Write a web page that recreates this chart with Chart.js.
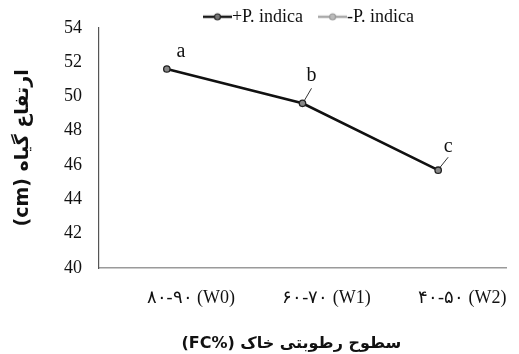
<!DOCTYPE html>
<html>
<head>
<meta charset="utf-8">
<script src="https://cdn.jsdelivr.net/npm/chart.js@4"></script>
<style>
  html, body { margin: 0; padding: 0; background: #fff; }
  #wrap { width: 519px; height: 354px; }
</style>
</head>
<body>
<div id="wrap"><canvas id="chart" width="519" height="354"></canvas></div>
<script>
// data
const categories = ['۸۰-۹۰ (W0)', '۶۰-۷۰ (W1)', '۴۰-۵۰ (W2)'];
const seriesNames = ['+P. indica', '-P. indica'];
const plusIndica = [51.6, 49.6, 45.7];
const minusIndica = [null, null, null];
const letters = ['a', 'b', 'c'];
const yTicks = [40, 42, 44, 46, 48, 50, 52, 54];

const serif = '"Liberation Serif", "DejaVu Serif", serif';

// little line+dot icons for the legend
function legendIcon(lineColor, dotFill, dotStroke) {
    const c = document.createElement('canvas');
    c.width = 29; c.height = 10;
    const g = c.getContext('2d');
    g.strokeStyle = lineColor;
    g.lineWidth = 2.5;
    g.beginPath(); g.moveTo(0, 5); g.lineTo(29, 5); g.stroke();
    g.beginPath(); g.arc(14.5, 5, 3, 0, Math.PI * 2);
    g.fillStyle = dotFill; g.fill();
    g.lineWidth = 1.2; g.strokeStyle = dotStroke; g.stroke();
    return c;
}
const legendIcons = [
    legendIcon('#1a1a1a', '#777', '#222'),
    legendIcon('#aaaaaa', '#bbb', '#999')
];

// a / b / c letters with small leader lines
const letterPlugin = {
    id: 'letters',
    afterDatasetsDraw(chart, args, opts) {
        const meta = chart.getDatasetMeta(0);
        const ctx = chart.ctx;
        ctx.save();
        ctx.font = '20px ' + serif;
        ctx.fillStyle = '#111';
        ctx.textAlign = 'center';
        ctx.textBaseline = 'alphabetic';
        ctx.strokeStyle = '#333';
        ctx.lineWidth = 1;
        meta.data.forEach((pt, i) => {
            const o = opts.offsets[i];
            ctx.fillText(letters[i], pt.x + o.dx, pt.y + o.dy);
            if (o.lead) {
                ctx.beginPath();
                ctx.moveTo(pt.x + o.lead[0], pt.y + o.lead[1]);
                ctx.lineTo(pt.x + o.lead[2], pt.y + o.lead[3]);
                ctx.stroke();
            }
        });
        ctx.restore();
    }
};

// move the legend like in the source figure
const legendShift = {
    id: 'legendShift',
    afterLayout(chart, args, opts) {
        chart.legend.left += opts.dx;
        chart.legend.right += opts.dx;
        chart.legend.top += opts.dy;
        chart.legend.bottom += opts.dy;
    }
};

new Chart(document.getElementById('chart'), {
    type: 'line',
    data: {
        labels: categories,
        datasets: [
            {
                label: seriesNames[0],
                data: plusIndica,
                borderColor: '#111',
                borderWidth: 2.6,
                pointRadius: 3.2,
                pointBackgroundColor: '#888',
                pointBorderColor: '#222',
                pointBorderWidth: 1.3,
                tension: 0
            },
            {
                label: seriesNames[1],
                data: minusIndica,
                borderColor: '#aaa',
                borderWidth: 2.5,
                pointRadius: 3,
                pointBackgroundColor: '#bbb',
                pointBorderColor: '#999'
            }
        ]
    },
    options: {
        responsive: false,
        animation: false,
        layout: { padding: { top: 0, right: 13, bottom: 0, left: 0 } },
        plugins: {
            legend: {
                position: 'top',
                maxHeight: 26,
                labels: {
                    usePointStyle: true,
                    pointStyleWidth: 11,
                    padding: 6,
                    color: '#111',
                    font: { family: serif, size: 18 },
                    generateLabels(chart) {
                        const items = Chart.defaults.plugins.legend.labels.generateLabels(chart);
                        items.forEach(it => {
                            it.pointStyle = legendIcons[it.datasetIndex];
                            if (it.datasetIndex === 0) it.text += '\u00A0\u00A0\u00A0\u00A0';
                        });
                        return items;
                    }
                }
            },
            tooltip: { enabled: false },
            legendShift: { dx: 60, dy: 0 },
            letters: {
                offsets: [
                    { dx: 14, dy: -12 },
                    { dx: 9, dy: -22, lead: [2, -3, 9, -15] },
                    { dx: 10, dy: -18, lead: [2, -3, 10, -13] }
                ]
            }
        },
        scales: {
            x: {
                offset: true,
                grid: { display: false, drawTicks: false },
                border: { display: true, color: '#9a9a9a', width: 1.5 },
                ticks: {
                    color: '#111',
                    padding: 19,
                    labelOffset: 24,
                    maxRotation: 0,
                    font: { family: serif, size: 18 }
                },
                title: {
                    display: true,
                    text: '(FC%) سطوح رطوبتی خاک\u00A0\u00A0\u00A0\u00A0',
                    color: '#111',
                    font: { family: '"DejaVu Sans", sans-serif', size: 16, weight: 'bold' },
                    padding: { top: 0, bottom: 1 }
                },
                afterFit(scale) { scale.height = 86; }
            },
            y: {
                min: yTicks[0],
                max: yTicks[yTicks.length - 1],
                grid: { display: false, drawTicks: false },
                border: { display: true, color: '#555', width: 1.2 },
                ticks: {
                    stepSize: yTicks[1] - yTicks[0],
                    color: '#111',
                    padding: 17,
                    font: { family: serif, size: 18 }
                },
                title: {
                    display: true,
                    text: '(cm) ارتفاع گیاه',
                    color: '#111',
                    font: { family: '"DejaVu Sans", sans-serif', size: 19, weight: 'bold' },
                    padding: { top: 12, bottom: 0 }
                },
                afterFit(scale) { scale.width = 99; }
            }
        }
    },
    plugins: [letterPlugin, legendShift]
});
</script>
</body>
</html>
